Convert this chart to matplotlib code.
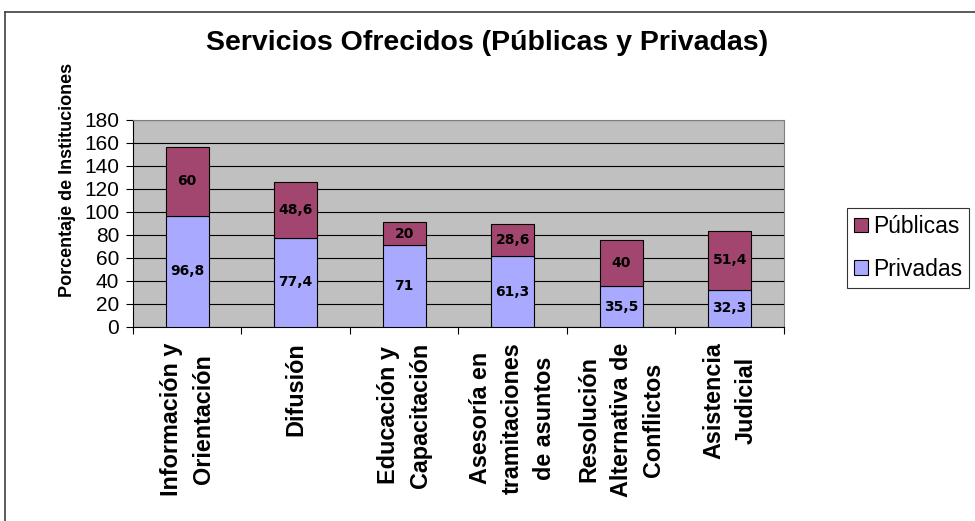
import numpy as np
import matplotlib
matplotlib.use('Agg')
import matplotlib.pyplot as plt
from matplotlib.lines import Line2D

plt.rcParams['font.family'] = ['Liberation Sans', 'DejaVu Sans']

# data
categorias = ['Información y\nOrientación', 'Difusión', 'Educación y\nCapacitación',
              'Asesoría en\ntramitaciones\nde asuntos', 'Resolución\nAlternativa de\nConflictos',
              'Asistencia\nJudicial']
privadas = [96.8, 77.4, 71, 61.3, 35.5, 32.3]
publicas = [60, 48.6, 20, 28.6, 40, 51.4]
etiq_priv = ['96,8', '77,4', '71', '61,3', '35,5', '32,3']
etiq_pub = ['60', '48,6', '20', '28,6', '40', '51,4']
y_ticks = list(range(0, 181, 20))

col_priv = '#A9AAFF'
col_pub = '#A3466F'

fig = plt.figure(figsize=(9.75, 5.21), dpi=100)
ax = fig.add_axes([0.1364, 0.3724, 0.6677, 0.3973])
ax.set_facecolor('#C0C0C0')

x = np.arange(len(categorias))
b1 = ax.bar(x, privadas, width=0.4, color=col_priv, edgecolor='black', linewidth=0.8,
            label='Privadas', zorder=3)
b2 = ax.bar(x, publicas, width=0.4, bottom=privadas, color=col_pub, edgecolor='black',
            linewidth=0.8, label='Públicas', zorder=3)

# value labels inside the segments
for i in range(len(x)):
    ax.text(x[i], privadas[i] / 2, etiq_priv[i], ha='center', va='center',
            fontsize=10, fontweight='bold', family='DejaVu Sans', zorder=4)
    ax.text(x[i], privadas[i] + publicas[i] / 2, etiq_pub[i], ha='center', va='center',
            fontsize=10, fontweight='bold', family='DejaVu Sans', zorder=4)

ax.set_xlim(-0.5, len(x) - 0.5)
ax.set_ylim(0, 180)
ax.set_yticks(y_ticks)
ax.tick_params(axis='y', labelsize=15, length=5, width=0.8, direction='out', pad=5)
ax.yaxis.grid(True, color='black', linewidth=0.8, zorder=1)
ax.set_axisbelow(True)

# category boundaries get tick marks, labels sit at the centres
ax.set_xticks(np.arange(len(x) + 1) - 0.5)
ax.set_xticklabels([])
ax.tick_params(axis='x', which='major', length=5, width=0.8, direction='out')
ax.set_xticks(x, minor=True)
ax.set_xticklabels(categorias, minor=True, rotation=90, fontsize=16.8, fontweight='bold',
                   ha='center', va='top', multialignment='center')
for lab in ax.get_xticklabels(minor=True):
    lab.set_linespacing(1.5)
ax.tick_params(axis='x', which='minor', length=0, pad=11)

ax.spines['top'].set_color('#808080')
ax.spines['right'].set_color('#808080')
ax.spines['left'].set_linewidth(0.8)
ax.spines['bottom'].set_linewidth(0.8)

fig.text(0.5, 0.918, 'Servicios Ofrecidos (Públicas y Privadas)', ha='center', va='center',
         fontsize=20.5, fontweight='bold')
fig.text(0.069, 0.655, 'Porcentaje de Instituciones', rotation=90, ha='center', va='center',
         fontsize=13, fontweight='bold')

leg = fig.legend([b2, b1], ['Públicas', 'Privadas'], loc='center left',
                 bbox_to_anchor=(0.8687, 0.524), fontsize=16.5, frameon=True, fancybox=False,
                 edgecolor='black', handlelength=0.6, handleheight=0.6, handletextpad=0.25,
                 borderpad=0.3, labelspacing=0.85, borderaxespad=0)
leg.get_frame().set_linewidth(0.8)

# outer chart border (only left and top visible in the crop)
fig.add_artist(Line2D([0.0055, 0.0055], [0.0, 0.977], transform=fig.transFigure,
                      color='#404040', linewidth=1.2))
fig.add_artist(Line2D([0.0055, 1.0], [0.977, 0.977], transform=fig.transFigure,
                      color='#404040', linewidth=1.2))

plt.savefig('out.png', dpi=100)
